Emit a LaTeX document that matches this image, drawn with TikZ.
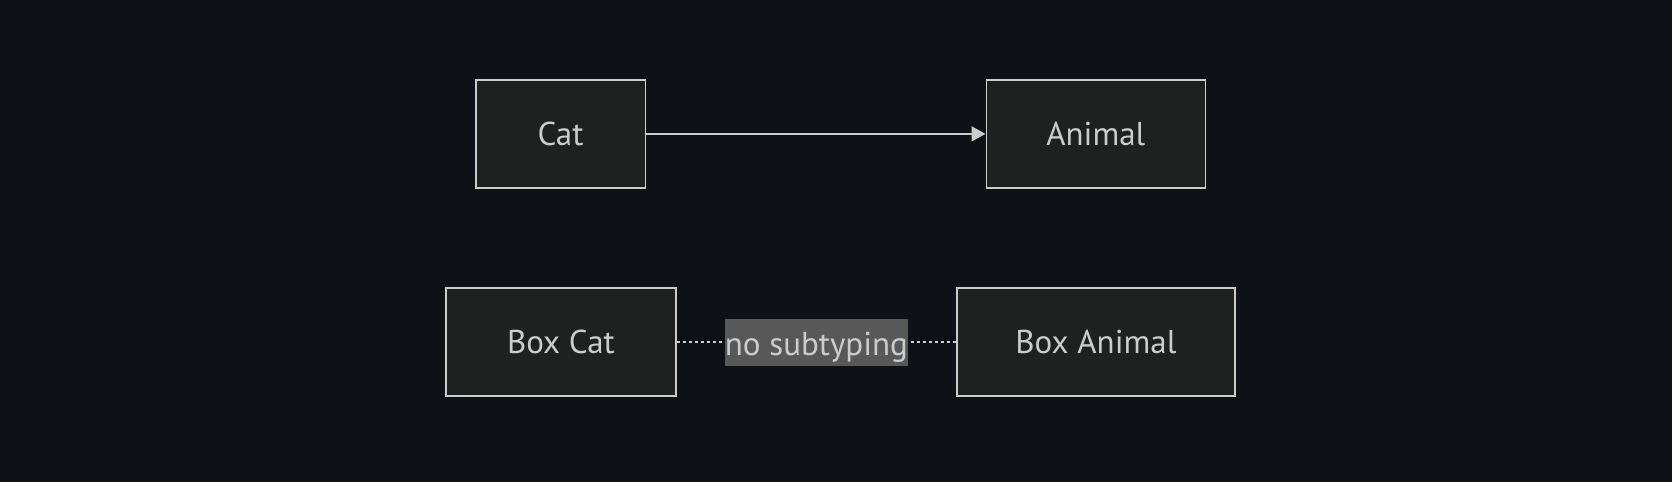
\documentclass[tikz,border=0pt]{standalone}
\usepackage{fontspec}
\setmainfont{PT Sans}
\usetikzlibrary{arrows.meta}
\definecolor{bgc}{HTML}{0E1116}
\definecolor{boxfill}{HTML}{1F2020}
\definecolor{boxline}{HTML}{CCCCCC}
\definecolor{txt}{HTML}{CCCCCC}
\definecolor{lblfill}{HTML}{585858}
\tikzset{
  typebox/.style={draw=boxline, fill=boxfill, line width=1.6pt, text=txt,
    minimum height=108pt, inner sep=0pt, font=\fontsize{33}{38}\selectfont},
  edgelabel/.style={fill=lblfill, text=txt, inner sep=0pt,
    minimum width=182pt, minimum height=47pt, font=\fontsize{33}{38}\selectfont},
  subarrow/.style={draw=boxline, line width=1.6pt, -{Triangle[length=14pt,width=15pt]}},
  nosub/.style={draw=boxline, line width=1.6pt, dash pattern=on 3pt off 3pt},
}
\begin{document}
\begin{tikzpicture}[x=1pt,y=-1pt]
  \fill[bgc] (0,0) rectangle (1672,482);
  \useasboundingbox (0,0) rectangle (1672,482);

  \node[typebox, minimum width=169.6pt] (cat) at (560.5,133.9) {Cat};
  \node[typebox, minimum width=219pt] (animal) at (1095.8,133.9) {Animal};
  \node[typebox, minimum width=230.3pt] (boxcat) at (560.9,341.7) {Box Cat};
  \node[typebox, minimum width=278.3pt] (boxanimal) at (1095.9,341.7) {Box Animal};

  \draw[subarrow] (cat.east) -- (animal.west);
  \draw[nosub] (boxcat.east) -- node[edgelabel, text depth=0pt, yshift=-1pt] (lbl) {\raisebox{-2pt}{no subtyping}} (boxanimal.west);
\end{tikzpicture}
\end{document}
